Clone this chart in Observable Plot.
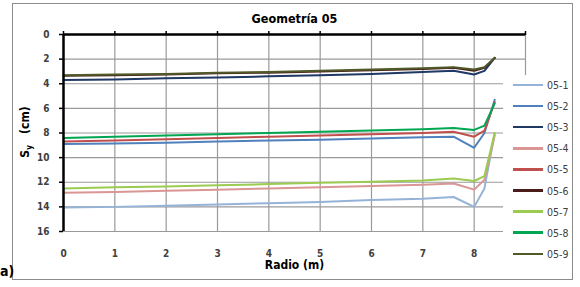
<!DOCTYPE html>
<html>
<head>
<meta charset="utf-8">
<script src="https://cdn.jsdelivr.net/npm/d3@7"></script>
<script src="https://cdn.jsdelivr.net/npm/@observablehq/plot@0.6"></script>
<style>
  html, body { margin: 0; padding: 0; background: #fff; }
  #wrap { position: relative; width: 580px; height: 287px; overflow: hidden; font-family: "Liberation Sans Narrow", "DejaVu Sans Condensed", sans-serif; }
  #frame { position: absolute; left: 12px; top: 3px; width: 561px; height: 277px; border: 1.5px solid #8c8c8c; box-sizing: border-box; }
  #plot { position: absolute; left: 0; top: 0; }
  #legend { position: absolute; left: 503px; top: 75px; width: 68px; height: 202px; background: #fff; }
  .item { position: absolute; left: 10px; height: 12px; display: flex; align-items: center; font-size: 10.5px; color: #404040; }
  .item span.sw { display: inline-block; width: 30px; height: 2.5px; margin-right: 4px; }
  #tag { position: absolute; left: 0px; top: 263px; font: bold 14px "DejaVu Sans Condensed", sans-serif; color: #000; }
</style>
</head>
<body>
<div id="wrap">
  <div id="plot"></div>
  <div id="frame"></div>
  <div id="legend"></div>
  <div id="tag">a)</div>
</div>
<script>
// Radio (m)
const radio = [0, 1, 2, 3, 4, 5, 6, 7, 7.6, 8, 8.2, 8.4];
// S_y (cm) per series
const s05_1 = [14.05, 14.0, 13.9, 13.8, 13.7, 13.6, 13.45, 13.35, 13.2, 14.0, 12.5, 8.0];
const s05_2 = [8.9, 8.85, 8.8, 8.7, 8.6, 8.55, 8.45, 8.35, 8.3, 9.2, 8.0, 5.3];
const s05_3 = [3.7, 3.65, 3.55, 3.5, 3.4, 3.3, 3.2, 3.05, 2.95, 3.25, 2.95, 1.9];
const s05_4 = [12.85, 12.8, 12.7, 12.6, 12.5, 12.4, 12.3, 12.2, 12.1, 12.6, 11.8, 8.2];
const s05_5 = [8.7, 8.6, 8.5, 8.4, 8.3, 8.2, 8.1, 8.0, 7.9, 8.3, 7.8, 5.5];
const s05_6 = [3.35, 3.3, 3.25, 3.15, 3.1, 3.0, 2.9, 2.8, 2.7, 2.95, 2.7, 1.9];
const s05_7 = [12.5, 12.4, 12.35, 12.25, 12.15, 12.05, 11.95, 11.85, 11.7, 11.9, 11.5, 8.0];
const s05_8 = [8.4, 8.3, 8.2, 8.1, 8.0, 7.9, 7.8, 7.7, 7.6, 7.75, 7.4, 5.6];
const s05_9 = [3.3, 3.25, 3.2, 3.1, 3.05, 2.95, 2.85, 2.75, 2.65, 2.85, 2.65, 1.9];

const seriesNames = ["05-1", "05-2", "05-3", "05-4", "05-5", "05-6", "05-7", "05-8", "05-9"];
const seriesValues = [s05_1, s05_2, s05_3, s05_4, s05_5, s05_6, s05_7, s05_8, s05_9];
const seriesColors = ["#95b3d7", "#4f81bd", "#1f3864", "#d99694", "#c0504d", "#4a1c1a", "#9bcb50", "#00a651", "#4f5a28"];

const xTicks = [0, 1, 2, 3, 4, 5, 6, 7, 8];
const xGrid = [1, 2, 3, 4, 5, 6, 7, 8, 9];
const xTopTicks = [0, 1, 2, 3, 4, 5, 6, 7, 8, 9];
const yTicks = [0, 2, 4, 6, 8, 10, 12, 14, 16];
const yGrid = [2, 4, 6, 8, 10, 12, 14, 16];

const title = "Geometría 05";
const xLabel = "Radio (m)";

const data = seriesNames.flatMap((name, i) =>
  radio.map((r, j) => ({series: name, x: r, y: seriesValues[i][j]}))
);

const font = "'Liberation Sans Narrow', 'DejaVu Sans Condensed', sans-serif";

const chart = Plot.plot({
  width: 580,
  height: 287,
  marginLeft: 63,
  marginRight: 55,
  marginTop: 34,
  marginBottom: 56,
  style: {fontFamily: font, fontSize: "10px", background: "transparent", overflow: "visible"},
  x: {domain: [0, 9]},
  y: {domain: [0, 16], reverse: true},
  color: {domain: seriesNames, range: seriesColors},
  marks: [
    Plot.gridX(xGrid, {stroke: "#9a9a9a", strokeOpacity: 1, strokeWidth: 1.2}),
    Plot.gridY(yGrid, {stroke: "#9a9a9a", strokeOpacity: 1, strokeWidth: 1.2}),
    Plot.axisY(yTicks, {tickSize: 4, tickPadding: 10, label: null, fill: "#404040", stroke: "#000", strokeWidth: 1.5, fontWeight: "bold", fontSize: 10}),
    Plot.axisX(xTicks, {anchor: "bottom", tickSize: 0, tickPadding: 18, label: null, fill: "#404040", fontWeight: "bold", fontSize: 10}),
    Plot.axisX(xTopTicks, {anchor: "top", tickSize: 4, tickFormat: () => "", label: null, stroke: "#000", strokeWidth: 1.5}),
    Plot.line(data, {x: "x", y: "y", z: "series", stroke: "series", strokeWidth: 2}),
    Plot.ruleY([0], {stroke: "#000", strokeWidth: 2.5}),
    Plot.ruleX([0], {stroke: "#000", strokeWidth: 2.5}),
    Plot.text([title], {frameAnchor: "top", dy: -20, fontWeight: "bold", fontSize: 12.5, fill: "#000"}),
    Plot.text([xLabel], {frameAnchor: "bottom", dy: 37, fontWeight: "bold", fontSize: 12, fill: "#000"})
  ]
});
document.getElementById("plot").appendChild(chart);

// rotated y label with subscript
const svg = d3.select(chart);
const yl = svg.append("text")
  .attr("transform", "translate(29,132) rotate(-90)")
  .attr("text-anchor", "middle")
  .attr("font-family", font)
  .attr("font-weight", "bold")
  .attr("font-size", 12)
  .attr("fill", "#000");
yl.append("tspan").text("S");
yl.append("tspan").attr("font-size", 8).attr("dy", 3).text("y");
yl.append("tspan").attr("dy", -3).text("\u00a0\u00a0\u00a0(cm)");

// legend
const leg = document.getElementById("legend");
seriesNames.forEach((name, i) => {
  const it = document.createElement("div");
  it.className = "item";
  it.style.top = (4 + i * 21.1) + "px";
  const sw = document.createElement("span");
  sw.className = "sw";
  sw.style.background = seriesColors[i];
  it.appendChild(sw);
  it.appendChild(document.createTextNode(name));
  leg.appendChild(it);
});
</script>
</body>
</html>
